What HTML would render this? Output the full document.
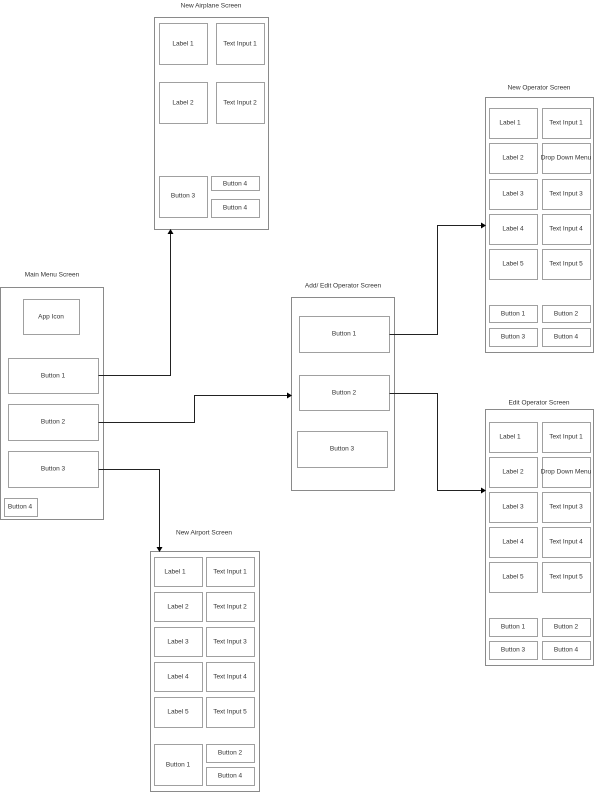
<!DOCTYPE html>
<html><head><meta charset="utf-8"><style>
html,body{margin:0;padding:0;background:#fff;}
svg{display:block;}
text{font-family:"Liberation Sans",sans-serif;font-size:6.5px;fill:#333;text-anchor:middle;dominant-baseline:central;}
.c{fill:#fff;stroke:#8a8a8a;stroke-width:1;}
.b{fill:#fff;stroke:#a0a0a0;stroke-width:1;}
.l{fill:none;stroke:#222;stroke-width:1;}
</style></head><body>
<svg width="594" height="792" viewBox="0 0 594 792" xmlns="http://www.w3.org/2000/svg">
<!-- Main menu -->
<text x="52" y="275">Main Menu Screen</text>
<rect class="c" x="0.5" y="287.5" width="103" height="232"/>
<rect class="b" x="23.5" y="299.5" width="56" height="35"/><text x="51" y="317">App Icon</text>
<rect class="b" x="8.5" y="358.5" width="90" height="35"/><text x="53" y="376">Button 1</text>
<rect class="b" x="8.5" y="404.5" width="90" height="36"/><text x="53" y="422">Button 2</text>
<rect class="b" x="8.5" y="451.5" width="90" height="36"/><text x="53" y="469">Button 3</text>
<rect class="b" x="4.5" y="498.5" width="33" height="18"/><text x="20" y="507">Button 4</text>

<!-- New Airplane -->
<text x="211" y="6">New Airplane Screen</text>
<rect class="c" x="154.5" y="17.5" width="114" height="212"/>
<rect class="b" x="159.5" y="23.5" width="48" height="41"/><text x="183" y="44">Label 1</text>
<rect class="b" x="216.5" y="23.5" width="48" height="41"/><text x="240" y="44">Text Input 1</text>
<rect class="b" x="159.5" y="82.5" width="48" height="41"/><text x="183" y="103">Label 2</text>
<rect class="b" x="216.5" y="82.5" width="48" height="41"/><text x="240" y="103">Text Input 2</text>
<rect class="b" x="159.5" y="176.5" width="48" height="41"/><text x="183" y="196">Button 3</text>
<rect class="b" x="211.5" y="176.5" width="48" height="14"/><text x="235" y="184">Button 4</text>
<rect class="b" x="211.5" y="199.5" width="48" height="18"/><text x="235" y="208">Button 4</text>

<!-- Add/Edit -->
<text x="343" y="286">Add/ Edit Operator Screen</text>
<rect class="c" x="291.5" y="297.5" width="103" height="193"/>
<rect class="b" x="299.5" y="316.5" width="90" height="36"/><text x="344" y="334">Button 1</text>
<rect class="b" x="299.5" y="375.5" width="90" height="35"/><text x="344" y="393">Button 2</text>
<rect class="b" x="297.5" y="431.5" width="90" height="36"/><text x="342" y="449">Button 3</text>

<!-- New Operator -->
<text x="539" y="88">New Operator Screen</text>
<rect class="c" x="485.5" y="97.5" width="108" height="255"/>
<rect class="b" x="489.5" y="108.5" width="48" height="30"/><text x="510" y="123">Label 1</text>
<rect class="b" x="542.5" y="108.5" width="48" height="30"/><text x="566" y="123">Text Input 1</text>
<rect class="b" x="489.5" y="143.5" width="48" height="30"/><text x="513" y="158">Label 2</text>
<rect class="b" x="542.5" y="143.5" width="48" height="30"/><text x="566" y="158">Drop Down Menu</text>
<rect class="b" x="489.5" y="179.5" width="48" height="30"/><text x="513" y="194">Label 3</text>
<rect class="b" x="542.5" y="179.5" width="48" height="30"/><text x="566" y="194">Text Input 3</text>
<rect class="b" x="489.5" y="214.5" width="48" height="30"/><text x="513" y="229">Label 4</text>
<rect class="b" x="542.5" y="214.5" width="48" height="30"/><text x="566" y="229">Text Input 4</text>
<rect class="b" x="489.5" y="249.5" width="48" height="30"/><text x="513" y="264">Label 5</text>
<rect class="b" x="542.5" y="249.5" width="48" height="30"/><text x="566" y="264">Text Input 5</text>
<rect class="b" x="489.5" y="305.5" width="48" height="17"/><text x="513" y="314">Button 1</text>
<rect class="b" x="542.5" y="305.5" width="48" height="17"/><text x="566" y="314">Button 2</text>
<rect class="b" x="489.5" y="328.5" width="48" height="18"/><text x="513" y="337">Button 3</text>
<rect class="b" x="542.5" y="328.5" width="48" height="18"/><text x="566" y="337">Button 4</text>

<!-- Edit Operator -->
<text x="539" y="403">Edit Operator Screen</text>
<rect class="c" x="485.5" y="409.5" width="108" height="256"/>
<rect class="b" x="489.5" y="422.5" width="48" height="30"/><text x="510" y="437">Label 1</text>
<rect class="b" x="542.5" y="422.5" width="48" height="30"/><text x="566" y="437">Text Input 1</text>
<rect class="b" x="489.5" y="457.5" width="48" height="30"/><text x="513" y="472">Label 2</text>
<rect class="b" x="542.5" y="457.5" width="48" height="30"/><text x="566" y="472">Drop Down Menu</text>
<rect class="b" x="489.5" y="492.5" width="48" height="30"/><text x="513" y="507">Label 3</text>
<rect class="b" x="542.5" y="492.5" width="48" height="30"/><text x="566" y="507">Text Input 3</text>
<rect class="b" x="489.5" y="527.5" width="48" height="30"/><text x="513" y="542">Label 4</text>
<rect class="b" x="542.5" y="527.5" width="48" height="30"/><text x="566" y="542">Text Input 4</text>
<rect class="b" x="489.5" y="562.5" width="48" height="30"/><text x="513" y="577">Label 5</text>
<rect class="b" x="542.5" y="562.5" width="48" height="30"/><text x="566" y="577">Text Input 5</text>
<rect class="b" x="489.5" y="618.5" width="48" height="18"/><text x="513" y="627">Button 1</text>
<rect class="b" x="542.5" y="618.5" width="48" height="18"/><text x="566" y="627">Button 2</text>
<rect class="b" x="489.5" y="641.5" width="48" height="18"/><text x="513" y="650">Button 3</text>
<rect class="b" x="542.5" y="641.5" width="48" height="18"/><text x="566" y="650">Button 4</text>

<!-- New Airport -->
<text x="204" y="533">New Airport Screen</text>
<rect class="c" x="150.5" y="551.5" width="109" height="240"/>
<rect class="b" x="154.5" y="557.5" width="48" height="29"/><text x="175" y="572">Label 1</text>
<rect class="b" x="206.5" y="557.5" width="48" height="29"/><text x="230" y="572">Text Input 1</text>
<rect class="b" x="154.5" y="592.5" width="48" height="29"/><text x="178" y="607">Label 2</text>
<rect class="b" x="206.5" y="592.5" width="48" height="29"/><text x="230" y="607">Text Input 2</text>
<rect class="b" x="154.5" y="627.5" width="48" height="29"/><text x="178" y="642">Label 3</text>
<rect class="b" x="206.5" y="627.5" width="48" height="29"/><text x="230" y="642">Text Input 3</text>
<rect class="b" x="154.5" y="662.5" width="48" height="29"/><text x="178" y="677">Label 4</text>
<rect class="b" x="206.5" y="662.5" width="48" height="29"/><text x="230" y="677">Text Input 4</text>
<rect class="b" x="154.5" y="697.5" width="48" height="30"/><text x="178" y="712">Label 5</text>
<rect class="b" x="206.5" y="697.5" width="48" height="30"/><text x="230" y="712">Text Input 5</text>
<rect class="b" x="154.5" y="744.5" width="48" height="41"/><text x="178" y="765">Button 1</text>
<rect class="b" x="206.5" y="744.5" width="48" height="18"/><text x="230" y="753">Button 2</text>
<rect class="b" x="206.5" y="767.5" width="48" height="18"/><text x="230" y="776">Button 4</text>

<!-- connectors -->
<polyline class="l" points="98.5,375.5 170.5,375.5 170.5,233"/>
<polygon points="167.5,234 173.5,234 170.5,229" fill="#000"/>
<polyline class="l" points="98.5,422.5 194.5,422.5 194.5,395.5 288,395.5"/>
<polygon points="287,392.5 287,398.5 292,395.5" fill="#000"/>
<polyline class="l" points="98.5,469.5 159.5,469.5 159.5,548"/>
<polygon points="156.5,547 162.5,547 159.5,552" fill="#000"/>
<polyline class="l" points="389.5,334.5 437.5,334.5 437.5,225.5 482,225.5"/>
<polygon points="481,222.5 481,228.5 486,225.5" fill="#000"/>
<polyline class="l" points="389.5,393.5 437.5,393.5 437.5,490.5 482,490.5"/>
<polygon points="481,487.5 481,493.5 486,490.5" fill="#000"/>
</svg>
</body></html>
